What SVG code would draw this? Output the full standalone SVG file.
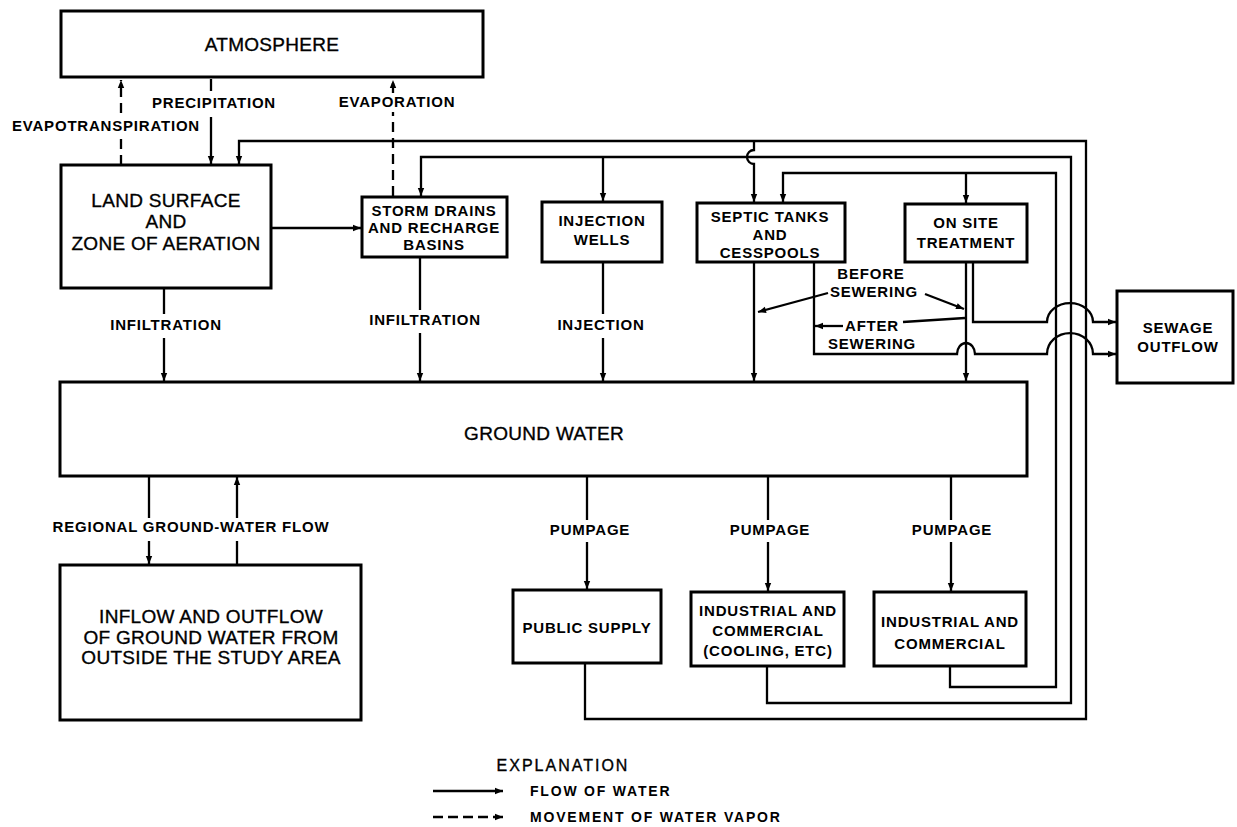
<svg xmlns="http://www.w3.org/2000/svg" width="1237" height="827" viewBox="0 0 1237 827">
<style>
.box{fill:#fff;stroke:#000;stroke-width:3}
.ln{fill:none;stroke:#000;stroke-width:2.3}
.dash{stroke-dasharray:10 6}
.t{font-family:"Liberation Sans",Arial,sans-serif;font-weight:bold;font-size:15px;letter-spacing:0.8px;text-anchor:middle;fill:#000}
.big{font-size:19px;font-weight:normal;letter-spacing:0.3px;stroke:#000;stroke-width:0.35}
.lg{font-size:14px;letter-spacing:1.8px;text-anchor:start}
</style>
<defs>
<marker id="ah" viewBox="0 0 10 10" refX="10" refY="5" markerWidth="9" markerHeight="8" markerUnits="userSpaceOnUse" orient="auto"><path d="M0,1 L10,5 L0,9 z" fill="#000"/></marker>
</defs>
<rect width="1237" height="827" fill="#fff"/>

<g id="connectors">
<path class="ln dash" d="M121 113 L121 80" marker-end="url(#ah)"/>
<path class="ln dash" d="M121 165 L121 133"/>
<path class="ln" d="M211 79 L211 91"/>
<path class="ln" d="M211 117 L211 164" marker-end="url(#ah)"/>
<path class="ln dash" d="M393 196 L393 112"/>
<path class="ln dash" d="M393 93 L393 80" marker-end="url(#ah)"/>
<path class="ln" d="M271 228 L361 228" marker-end="url(#ah)"/>
<path class="ln" d="M164 289 L164 314"/>
<path class="ln" d="M164 338 L164 381" marker-end="url(#ah)"/>
<path class="ln" d="M420 258 L420 310"/>
<path class="ln" d="M420 333 L420 381" marker-end="url(#ah)"/>
<path class="ln" d="M603 263 L603 314"/>
<path class="ln" d="M603 338 L603 381" marker-end="url(#ah)"/>
<path class="ln" d="M754 263 L754 381" marker-end="url(#ah)"/>
<path class="ln" d="M814 263 L814 354 L957 354 A 9 11 0 0 1 975 354 L1047 354 A 22 20 0 0 1 1093 354 L1116 354" marker-end="url(#ah)"/>
<path class="ln" d="M966 263 L966 381" marker-end="url(#ah)"/>
<path class="ln" d="M973 263 L973 322 L1047 322 A 22 18 0 0 1 1093 322 L1116 322" marker-end="url(#ah)"/>
<path class="ln" d="M585 664 L585 719 L1086 719 L1086 141 L239 141 L239 164" marker-end="url(#ah)"/>
<path class="ln" d="M754 141 L754 150 A 7 7 0 0 0 754 164 L754 202" marker-end="url(#ah)"/>
<path class="ln" d="M767 667 L767 703 L1071 703 L1071 157 L421 157 L421 196" marker-end="url(#ah)"/>
<path class="ln" d="M603 157 L603 201" marker-end="url(#ah)"/>
<path class="ln" d="M950 667 L950 687 L1056 687 L1056 173 L783 173 L783 202" marker-end="url(#ah)"/>
<path class="ln" d="M966 173 L966 203" marker-end="url(#ah)"/>
<path class="ln" d="M149 477 L149 518"/>
<path class="ln" d="M149 541 L149 564" marker-end="url(#ah)"/>
<path class="ln" d="M237 564 L237 541"/>
<path class="ln" d="M237 518 L237 477" marker-end="url(#ah)"/>
<path class="ln" d="M587 477 L587 520"/>
<path class="ln" d="M587 542 L587 589" marker-end="url(#ah)"/>
<path class="ln" d="M768 477 L768 520"/>
<path class="ln" d="M768 542 L768 591" marker-end="url(#ah)"/>
<path class="ln" d="M951 477 L951 520"/>
<path class="ln" d="M951 542 L951 591" marker-end="url(#ah)"/>
<path class="ln" d="M828 293 L758 312" marker-end="url(#ah)"/>
<path class="ln" d="M925 294 L964 309" marker-end="url(#ah)"/>
<path class="ln" d="M843 326 L815 326" marker-end="url(#ah)"/>
<path class="ln" d="M903 322 L965 318"/>
</g>

<g id="atmosphere"><rect class="box" x="61" y="11" width="422" height="66"/><text class="t big" x="272" y="51">ATMOSPHERE</text></g>
<g id="land-surface"><rect class="box" x="61" y="165" width="210" height="123"/><text class="t big" x="166" y="207">LAND SURFACE</text><text class="t big" x="166" y="228">AND</text><text class="t big" x="166" y="250">ZONE OF AERATION</text></g>
<g id="storm-drains"><rect class="box" x="362" y="197" width="145" height="60"/><text class="t" x="434" y="216">STORM DRAINS</text><text class="t" x="434" y="233">AND RECHARGE</text><text class="t" x="434" y="250">BASINS</text></g>
<g id="injection-wells"><rect class="box" x="542" y="202" width="120" height="60"/><text class="t" x="602" y="226">INJECTION</text><text class="t" x="602" y="245">WELLS</text></g>
<g id="septic-tanks"><rect class="box" x="697" y="203" width="148" height="59"/><text class="t" x="770" y="222">SEPTIC TANKS</text><text class="t" x="770" y="240">AND</text><text class="t" x="770" y="258">CESSPOOLS</text></g>
<g id="on-site-treatment"><rect class="box" x="905" y="204" width="122" height="58"/><text class="t" x="966" y="228">ON SITE</text><text class="t" x="966" y="248">TREATMENT</text></g>
<g id="sewage-outflow"><rect class="box" x="1117" y="291" width="116" height="92"/><text class="t" x="1178" y="333">SEWAGE</text><text class="t" x="1178" y="352">OUTFLOW</text></g>
<g id="ground-water"><rect class="box" x="60" y="382" width="967" height="94"/><text class="t big" x="544" y="440">GROUND WATER</text></g>
<g id="inflow-outflow"><rect class="box" x="60" y="565" width="301" height="155"/><text class="t big" x="211" y="623">INFLOW AND OUTFLOW</text><text class="t big" x="211" y="644">OF GROUND WATER FROM</text><text class="t big" x="211" y="664">OUTSIDE THE STUDY AREA</text></g>
<g id="public-supply"><rect class="box" x="513" y="590" width="148" height="73"/><text class="t" x="587" y="633">PUBLIC SUPPLY</text></g>
<g id="industrial-cooling"><rect class="box" x="691" y="592" width="153" height="74"/><text class="t" x="768" y="616">INDUSTRIAL AND</text><text class="t" x="768" y="636">COMMERCIAL</text><text class="t" x="768" y="656">(COOLING, ETC)</text></g>
<g id="industrial-commercial"><rect class="box" x="874" y="592" width="152" height="74"/><text class="t" x="950" y="627">INDUSTRIAL AND</text><text class="t" x="950" y="649">COMMERCIAL</text></g>

<g id="labels">
<text class="t" x="214" y="108">PRECIPITATION</text>
<text class="t" x="106" y="131">EVAPOTRANSPIRATION</text>
<text class="t" x="397" y="107">EVAPORATION</text>
<text class="t" x="166" y="330">INFILTRATION</text>
<text class="t" x="425" y="325">INFILTRATION</text>
<text class="t" x="601" y="330">INJECTION</text>
<text class="t" x="871" y="279">BEFORE</text>
<text class="t" x="874" y="297">SEWERING</text>
<text class="t" x="872" y="331">AFTER</text>
<text class="t" x="872" y="349">SEWERING</text>
<text class="t" x="191" y="532">REGIONAL GROUND-WATER FLOW</text>
<text class="t" x="590" y="535">PUMPAGE</text>
<text class="t" x="770" y="535">PUMPAGE</text>
<text class="t" x="952" y="535">PUMPAGE</text>
</g>

<g id="legend">
<text class="t big" x="563" y="771" style="font-size:16px;letter-spacing:2px">EXPLANATION</text>
<path class="ln" d="M433 791 L503 791" marker-end="url(#ah)"/>
<path class="ln" d="M433 817 L503 817" style="stroke-dasharray:10 5" marker-end="url(#ah)"/>
<text class="t lg" x="530" y="796">FLOW OF WATER</text>
<text class="t lg" x="530" y="822">MOVEMENT OF WATER VAPOR</text>
</g>
</svg>
